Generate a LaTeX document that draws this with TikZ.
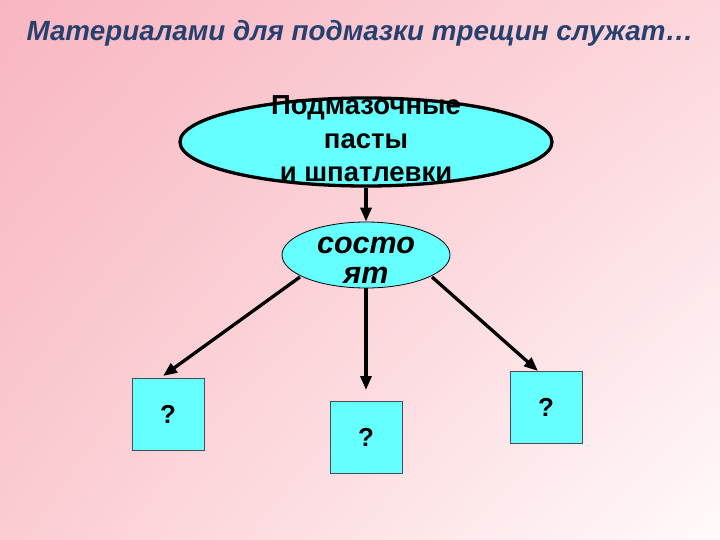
\documentclass[tikz,border=0pt]{standalone}
\usepackage{fontspec}
\setmainfont{Liberation Sans}
\usetikzlibrary{shapes.geometric,arrows.meta,shadings}
\definecolor{bgA}{RGB}{248,182,192}
\definecolor{bgB}{RGB}{252,214,220}
\definecolor{bgC}{RGB}{251,204,210}
\definecolor{bgD}{RGB}{255,250,250}
\definecolor{titleblue}{RGB}{38,64,112}
\definecolor{cyanfill}{RGB}{102,255,255}
\tikzset{
  conn/.style={line width=3.3pt,-{Triangle[length=14pt,width=11pt]}},
  qbox/.style={draw=black!70,line width=0.6pt,fill=cyanfill,minimum width=72pt,minimum height=72pt,inner sep=0pt,font=\bfseries\fontsize{26}{26}\selectfont},
}
\begin{document}
\begin{tikzpicture}[x=1pt,y=-1pt]
\shade[upper left=bgA,upper right=bgB,lower left=bgC,lower right=bgD] (0,0) rectangle (720,540);
\useasboundingbox (0,0) rectangle (720,540);
\node[font=\bfseries\itshape\fontsize{27.8}{28}\selectfont,text=titleblue] (title) at (360,33) {Материалами для подмазки трещин служат…};
\node[ellipse,draw,line width=3.3pt,fill=cyanfill,minimum width=372pt,minimum height=88pt,inner sep=0pt] (main) at (366,142) {};
\node[font=\bfseries\fontsize{27.5}{33.5}\selectfont,align=center] (maintext) at (366,139) {Подмазочные\\пасты\\и шпатлевки};
\node[ellipse,draw,line width=0.8pt,fill=cyanfill,minimum width=168pt,minimum height=66pt,inner sep=0pt] (sost) at (366,255) {};
\node[font=\bfseries\itshape\fontsize{30.5}{30}\selectfont,align=center] (sosttext) at (366,260) {состо\\ят};
\node[qbox] (q1) at (168,414) {?};
\node[qbox] (q2) at (366,437) {?};
\node[qbox] (q3) at (546,407) {?};
\draw[conn] (main.south) -- (sost.north);
\coordinate (s1) at (300,277);
\coordinate (s3) at (432,277);
\coordinate (t1) at (163,376);
\coordinate (t2) at (366,390);
\coordinate (t3) at (538,371);
\draw[conn] (s1) -- (t1);
\draw[conn] (sost.south) -- (t2);
\draw[conn] (s3) -- (t3);
\end{tikzpicture}
\end{document}
